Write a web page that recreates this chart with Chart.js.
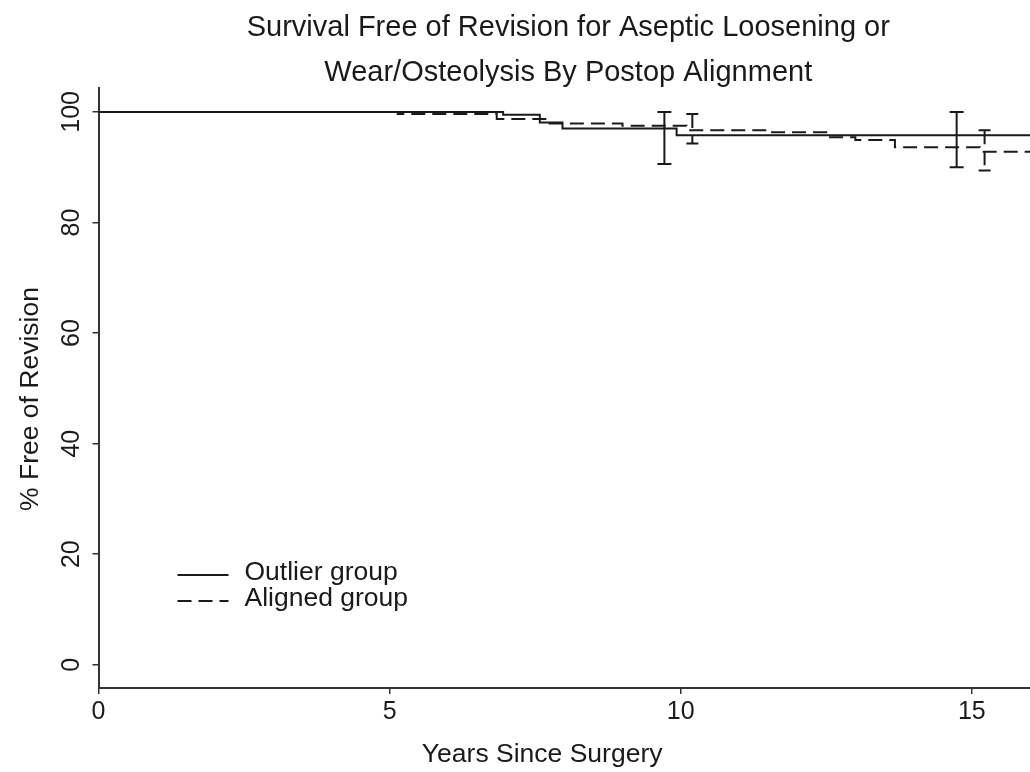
<!DOCTYPE html>
<html lang="en">
<head>
    <meta charset="UTF-8">
    <title>Survival Free of Revision by Postop Alignment</title>
    <style>
        html, body { margin: 0; padding: 0; background: #fff; }
        canvas { display: block; }
    </style>
</head>
<body>
    <canvas id="kmChart" width="1030" height="772"></canvas>

    <script src="https://cdn.jsdelivr.net/npm/chart.js"></script>
    <script>
        // Kaplan-Meier steps (years since surgery, % free of revision)
        const outlierYears = [0, 6.95, 7.58, 7.97, 9.93, 16];
        const outlierSurv  = [100, 99.5, 98.1, 97.0, 95.8, 95.8];
        const alignedYears = [0, 5.14, 6.84, 7.75, 9.0, 10.1, 11.5, 12.5, 13.0, 13.68, 15.14, 16];
        const alignedSurv  = [100, 99.6, 98.7, 97.9, 97.5, 96.7, 96.3, 95.4, 94.9, 93.6, 92.8, 92.8];

        // confidence interval bars
        const outlierCiYears = [9.72, 14.74];
        const outlierCiLow   = [90.6, 90.0];
        const outlierCiHigh  = [100, 100];
        const alignedCiYears = [10.2, 15.22];
        const alignedCiLow   = [94.3, 89.4];
        const alignedCiHigh  = [99.6, 96.7];

        const xTicks = [0, 5, 10, 15];
        const yTicks = [0, 20, 40, 60, 80, 100];
        const seriesNames = ['Outlier group', 'Aligned group'];

        const ink = '#1a1a1a';
        const axisInk = '#333';
        const family = '"Liberation Sans", Arial, Helvetica, sans-serif';
        const dashPattern = [14, 7];
        const strokeW = 2;

        function toPoints(xs, ys) {
            return xs.map((t, i) => ({ x: t, y: ys[i] }));
        }

        // vertical CI bars with caps, drawn through the chart scales
        const ciBars = {
            id: 'ciBars',
            afterDatasetsDraw(chart) {
                const { ctx, scales: { x, y } } = chart;
                const sets = [
                    { years: outlierCiYears, lo: outlierCiLow, hi: outlierCiHigh, dash: [], cap: 7 },
                    { years: alignedCiYears, lo: alignedCiLow, hi: alignedCiHigh, dash: dashPattern, cap: 6 }
                ];
                ctx.save();
                ctx.strokeStyle = ink;
                ctx.lineWidth = strokeW;
                sets.forEach(s => {
                    s.years.forEach((t, i) => {
                        const px = x.getPixelForValue(t);
                        const top = y.getPixelForValue(s.hi[i]);
                        const bot = y.getPixelForValue(s.lo[i]);
                        ctx.setLineDash(s.dash);
                        ctx.beginPath();
                        ctx.moveTo(px, top);
                        ctx.lineTo(px, bot);
                        ctx.stroke();
                        ctx.setLineDash([]);
                        ctx.beginPath();
                        ctx.moveTo(px - s.cap, top);
                        ctx.lineTo(px + s.cap, top);
                        ctx.moveTo(px - s.cap, bot);
                        ctx.lineTo(px + s.cap, bot);
                        ctx.stroke();
                    });
                });
                ctx.restore();
            }
        };

        // legend inside the plot, lower left
        const innerLegend = {
            id: 'innerLegend',
            afterDraw(chart) {
                const { ctx, chartArea } = chart;
                const x0 = chartArea.left + 79;
                const y0 = chartArea.bottom - 113;
                ctx.save();
                ctx.strokeStyle = ink;
                ctx.fillStyle = ink;
                ctx.lineWidth = strokeW;
                ctx.font = '26.5px ' + family;
                ctx.textBaseline = 'middle';
                chart.data.datasets.forEach((ds, i) => {
                    const ly = y0 + i * 26;
                    ctx.setLineDash(ds.borderDash || []);
                    ctx.beginPath();
                    ctx.moveTo(x0, ly);
                    ctx.lineTo(x0 + 51, ly);
                    ctx.stroke();
                    ctx.setLineDash([]);
                    ctx.fillText(ds.label, x0 + 67, ly - 2);
                });
                ctx.restore();
            }
        };

        new Chart(document.getElementById('kmChart'), {
            type: 'line',
            data: {
                datasets: [
                    {
                        label: seriesNames[0],
                        data: toPoints(outlierYears, outlierSurv),
                        stepped: true,
                        borderColor: ink,
                        borderWidth: strokeW,
                        pointRadius: 0,
                        fill: false
                    },
                    {
                        label: seriesNames[1],
                        data: toPoints(alignedYears, alignedSurv),
                        stepped: true,
                        borderColor: ink,
                        borderWidth: strokeW,
                        borderDash: dashPattern,
                        pointRadius: 0,
                        fill: false
                    }
                ]
            },
            options: {
                responsive: false,
                animation: false,
                layout: { padding: 0 },
                plugins: {
                    legend: { display: false },
                    tooltip: { enabled: false },
                    title: {
                        display: true,
                        fullSize: false,
                        text: ['\u00a0Survival Free of Revision for Aseptic Loosening or',
                               '\u00a0Wear/Osteolysis By Postop Alignment'],
                        color: ink,
                        font: { family: family, size: 29, weight: 'normal', lineHeight: 1.55 },
                        padding: { top: 6, bottom: -8 }
                    }
                },
                scales: {
                    x: {
                        type: 'linear',
                        min: 0,
                        max: 16,
                        afterBuildTicks: s => { s.ticks = xTicks.map(v => ({ value: v })); },
                        afterFit: s => { s.height = 84; },
                        border: { display: true, color: axisInk, width: 2 },
                        grid: { drawOnChartArea: false, drawTicks: true, tickLength: 6, color: axisInk, lineWidth: 1.5 },
                        ticks: { color: ink, padding: 3, font: { family: family, size: 25 } },
                        title: {
                            display: true,
                            text: 'Years Since Surgery\u00a0\u00a0\u00a0\u00a0\u00a0\u00a0',
                            color: ink,
                            font: { family: family, size: 26.5 },
                            padding: { top: 0, bottom: 1 }
                        }
                    },
                    y: {
                        type: 'linear',
                        min: -4.2,
                        max: 104.342,
                        afterBuildTicks: s => { s.ticks = yTicks.map(v => ({ value: v })); },
                        afterFit: s => { s.width = 98.5; },
                        border: { display: true, color: axisInk, width: 2 },
                        grid: { drawOnChartArea: false, drawTicks: true, tickLength: 6, color: axisInk, lineWidth: 1.5 },
                        ticks: {
                            color: ink,
                            padding: 0,
                            minRotation: 90,
                            maxRotation: 90,
                            crossAlign: 'center',
                            font: { family: family, size: 25 }
                        },
                        title: {
                            display: true,
                            text: '% Free of Revision\u00a0\u00a0\u00a0',
                            color: ink,
                            font: { family: family, size: 26.5 },
                            padding: { top: 15, bottom: 0 }
                        }
                    }
                }
            },
            plugins: [ciBars, innerLegend]
        });
    </script>
</body>
</html>
